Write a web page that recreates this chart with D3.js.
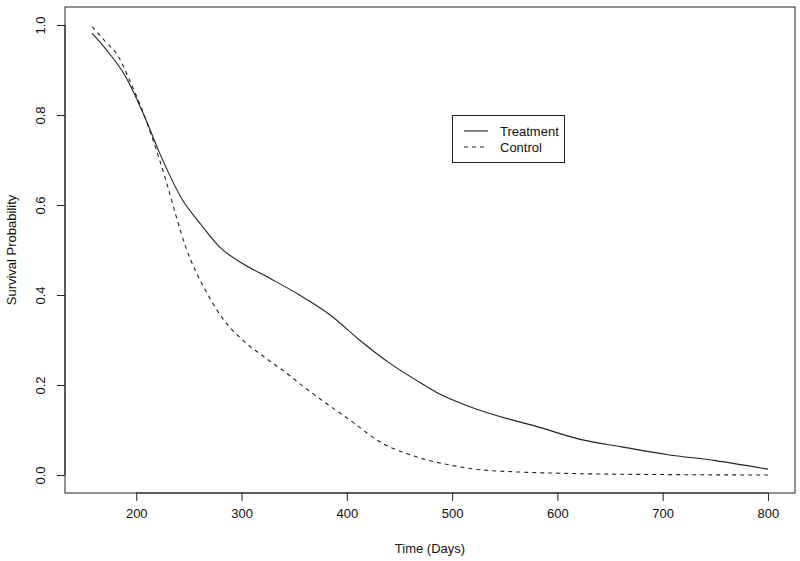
<!DOCTYPE html>
<html>
<head>
<meta charset="utf-8">
<script src="https://cdn.jsdelivr.net/npm/d3@7"></script>
<style>
  body { margin: 0; background: #fff; }
  text { font-family: "Liberation Sans", Arial, sans-serif; fill: #111; }
</style>
</head>
<body>
<script>
// survival curves
var treatment = [
  [158, 0.982], [175, 0.935], [189, 0.889], [208, 0.796], [221, 0.722],
  [244, 0.611], [262, 0.555], [279, 0.507], [301, 0.470], [327, 0.437],
  [355, 0.40], [384, 0.356], [412, 0.30], [441, 0.248], [465, 0.212],
  [488, 0.180], [510, 0.158], [535, 0.137], [580, 0.108], [624, 0.078],
  [660, 0.063], [705, 0.045], [750, 0.032], [800, 0.013]
];
var control = [
  [158, 0.996], [170, 0.965], [183, 0.93], [195, 0.87], [205, 0.815],
  [216, 0.744], [229, 0.648], [238, 0.574], [248, 0.50], [257, 0.450],
  [267, 0.405], [282, 0.348], [300, 0.302], [320, 0.265], [343, 0.226],
  [358, 0.198], [380, 0.16], [403, 0.122], [434, 0.07], [460, 0.045],
  [498, 0.022], [530, 0.011], [561, 0.007], [620, 0.003], [700, 0.001],
  [800, 0.0]
];
var xTicks = [200, 300, 400, 500, 600, 700, 800];
var yTicks = [0, 0.2, 0.4, 0.6, 0.8, 1.0];
var legendLabels = ['Treatment', 'Control'];

var W = 800, H = 561;
var pLeft = 65, pRight = 795, pTop = 7, pBottom = 493;

var svg = d3.select('body').append('svg')
  .attr('width', W)
  .attr('height', H);

// R style 4% padding on both axes
var x = d3.scaleLinear().domain([158 - 642 * 0.04, 800 + 642 * 0.04]).range([pLeft, pRight]);
var y = d3.scaleLinear().domain([-0.04, 1.04]).range([pBottom, pTop]);

svg.append('rect')
  .attr('x', pLeft).attr('y', pTop)
  .attr('width', pRight - pLeft).attr('height', pBottom - pTop)
  .attr('fill', 'none').attr('stroke', '#222').attr('stroke-width', 1);

var xAxis = svg.append('g')
  .attr('transform', 'translate(0,' + pBottom + ')')
  .call(d3.axisBottom(x).tickValues(xTicks).tickSize(8).tickPadding(8).tickFormat(d3.format('d')));
xAxis.select('.domain').attr('d', 'M' + x(200) + ',0H' + x(800)).attr('stroke', '#222');
xAxis.selectAll('line').attr('stroke', '#222');
xAxis.selectAll('text').attr('font-size', 13).attr('fill', '#111')
  .style('font-family', '"Liberation Sans", Arial, sans-serif');

var yAxis = svg.append('g')
  .attr('transform', 'translate(' + pLeft + ',0)')
  .call(d3.axisLeft(y).tickValues(yTicks).tickSize(8).tickFormat(d3.format('.1f')));
yAxis.select('.domain').attr('d', 'M0,' + y(0) + 'V' + y(1)).attr('stroke', '#222');
yAxis.selectAll('line').attr('stroke', '#222');
yAxis.selectAll('text')
  .attr('font-size', 13).attr('fill', '#111')
  .style('font-family', '"Liberation Sans", Arial, sans-serif')
  .attr('x', null).attr('dy', null)
  .attr('text-anchor', 'middle')
  .attr('transform', 'translate(-20,0) rotate(-90)');

svg.append('text')
  .attr('x', (pLeft + pRight) / 2).attr('y', 553)
  .attr('text-anchor', 'middle').attr('font-size', 13)
  .text('Time (Days)');

svg.append('text')
  .attr('transform', 'translate(16,' + ((pTop + pBottom) / 2) + ') rotate(-90)')
  .attr('text-anchor', 'middle').attr('font-size', 13)
  .text('Survival Probability');

var line = d3.line()
  .x(function(d) { return x(d[0]); })
  .y(function(d) { return y(d[1]); })
  .curve(d3.curveMonotoneX);

svg.append('path').datum(treatment)
  .attr('d', line).attr('fill', 'none')
  .attr('stroke', '#222').attr('stroke-width', 1.1);

svg.append('path').datum(control)
  .attr('d', line).attr('fill', 'none')
  .attr('stroke', '#222').attr('stroke-width', 1.1)
  .attr('stroke-dasharray', '4,4');

// legend
var lg = svg.append('g');
lg.append('rect')
  .attr('x', 452.5).attr('y', 115.5).attr('width', 112).attr('height', 47)
  .attr('fill', '#fff').attr('stroke', '#222');
legendLabels.forEach(function(lab, i) {
  var yy = 131 + i * 16;
  lg.append('line')
    .attr('x1', 464).attr('x2', 488).attr('y1', yy).attr('y2', yy)
    .attr('stroke', '#222').attr('stroke-width', 1.1)
    .attr('stroke-dasharray', i === 1 ? '4,4' : null);
  lg.append('text')
    .attr('x', 500).attr('y', yy).attr('dy', '0.35em')
    .attr('font-size', 13).text(lab);
});
</script>
</body>
</html>
